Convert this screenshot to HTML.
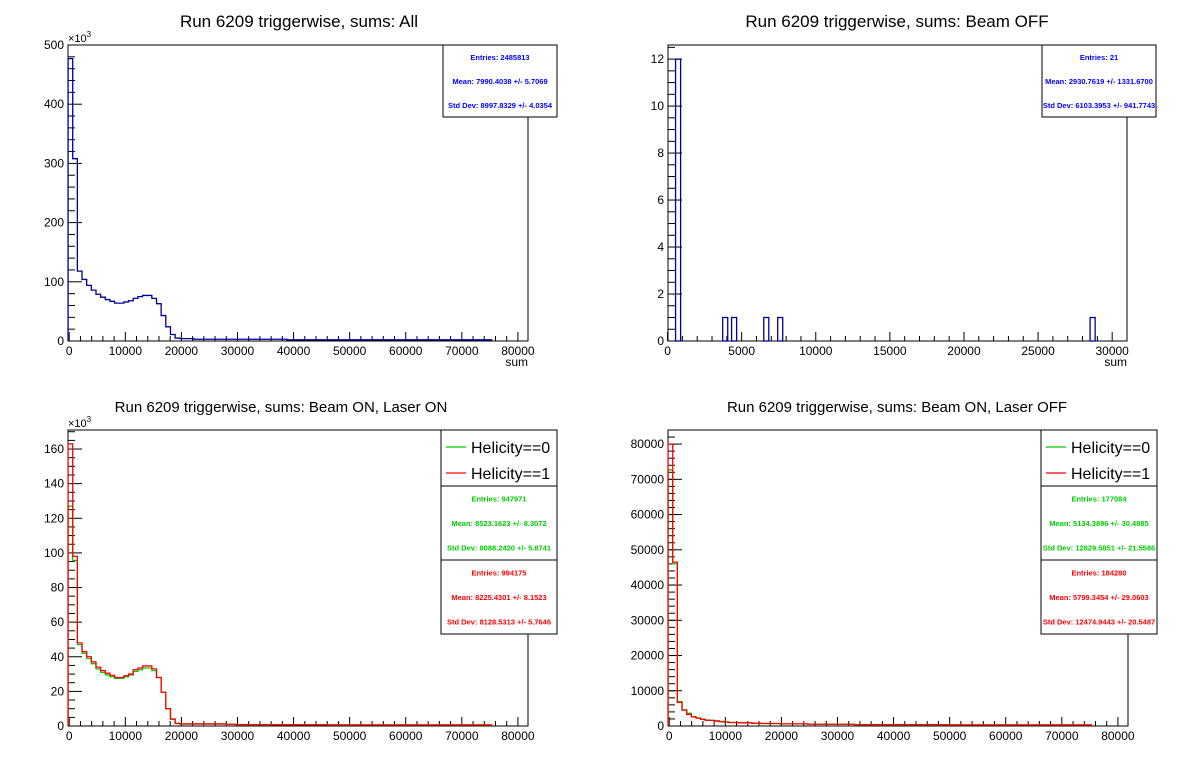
<!DOCTYPE html>
<html><head><meta charset="utf-8"><style>
body{margin:0;background:#fff}
svg{display:block;font-family:"Liberation Sans",sans-serif}
</style></head><body>
<svg id="c" width="1196" height="772" viewBox="0 0 1196 772" xmlns="http://www.w3.org/2000/svg">
<rect width="1196" height="772" fill="#fff"/>
<text x="299" y="27" font-size="17" text-anchor="middle">Run 6209 triggerwise, sums: All</text>
<text x="897" y="27" font-size="17" text-anchor="middle">Run 6209 triggerwise, sums: Beam OFF</text>
<text x="281" y="412" font-size="15" text-anchor="middle">Run 6209 triggerwise, sums: Beam ON, Laser ON</text>
<text x="897" y="412" font-size="15" text-anchor="middle">Run 6209 triggerwise, sums: Beam ON, Laser OFF</text>
<g id="plots"></g>
</svg>
<script>
const binStart=-210;
const binWidth=830;
// Top-left: All (thousands)
const allCounts=[477,308,118,104,94,86,79,74,70,67,64,64,66,68,72,75,77,77,72,63,43,24,11,5,4,4,4,3,3,3,3,3,3,3,3,3,3,3,3,3,3,3,3,3,3,3,3,2,2,2,2,2,2,2,2,2,2,2,2,2,2,2,2,2,2,2,2,2,2,2,2,2,2,2,2,2,2,2,2,2,2,2,2,2,2,2,2,2,2,2,2];
// Top-right: Beam OFF, nonzero bins
const offStarts=[540,3720,4320,6490,7430,28510];
const offCounts=[12,1,1,1,1,1];
const offWidth=340;
// Bottom-left: Laser ON (thousands)
const lonRed=[163,98,48,43,40,37,34,32,30.5,29.3,28,28,29,30,32.5,33.5,34.7,34.7,33,28,19.5,10,4,1.5,1.2,1.2,1.2,1.2,1.2,1.2,1.2,1.2,1.2,1.2,1.0,1.0,0.8,0.8,0.8,0.8,0.8,0.8,0.8,0.8,0.7,0.7,0.7,0.7,0.7,0.7,0.7,0.7,0.7,0.7,0.7,0.7,0.6,0.6,0.6,0.6,0.6,0.6,0.6,0.6,0.6,0.6,0.6,0.6,0.6,0.6,0.6,0.6,0.6,0.6,0.6,0.6,0.6,0.6,0.6,0.6,0.6,0.6,0.6,0.6,0.6,0.6,0.6,0.6,0.6,0.6,0.6];
const lonGreen=[127,95.6,47,42,39,36,33,31,29.5,28.5,27.5,27.5,28.5,29.5,31.5,32.5,33.5,33.5,32,28,19.5,10,4,1.5,1.2,1.2,1.2,1.2,1.2,1.2,1.2,1.2,1.2,1.2,1.0,1.0,0.8,0.8,0.8,0.8,0.8,0.8,0.8,0.8,0.7,0.7,0.7,0.7,0.7,0.7,0.7,0.7,0.7,0.7,0.7,0.7,0.6,0.6,0.6,0.6,0.6,0.6,0.6,0.6,0.6,0.6,0.6,0.6,0.6,0.6,0.6,0.6,0.6,0.6,0.6,0.6,0.6,0.6,0.6,0.6,0.6,0.6,0.6,0.6,0.6,0.6,0.6,0.6,0.6,0.6,0.6];
// Bottom-right: Laser OFF (thousands)
const loffRed=[80,46.5,6.7,4.5,3.3,2.6,2.2,1.9,1.6,1.6,1.4,1.2,1.1,1.0,1.0,0.9,0.9,0.9,0.8,0.8,0.7,0.7,0.7,0.7,0.6,0.6,0.6,0.6,0.6,0.6,0.5,0.5,0.5,0.5,0.5,0.5,0.5,0.5,0.5,0.5,0.4,0.4,0.4,0.4,0.4,0.4,0.4,0.4,0.4,0.4,0.4,0.4,0.4,0.4,0.4,0.4,0.4,0.4,0.4,0.4,0.3,0.3,0.3,0.3,0.3,0.3,0.3,0.3,0.3,0.3,0.3,0.3,0.3,0.3,0.3,0.3,0.3,0.3,0.3,0.3,0.3,0.3,0.3,0.3,0.3,0.3,0.3,0.3,0.3,0.3,0.3];
const loffGreen=[72.7,46,6.9,4.6,3.6,2.7,2.3,1.9,1.7,1.6,1.5,1.3,1.2,1.0,1.0,0.9,0.9,0.9,0.8,0.8,0.7,0.7,0.7,0.7,0.6,0.6,0.6,0.6,0.6,0.6,0.5,0.5,0.5,0.5,0.5,0.5,0.5,0.5,0.5,0.5,0.4,0.4,0.4,0.4,0.4,0.4,0.4,0.4,0.4,0.4,0.4,0.4,0.4,0.4,0.4,0.4,0.4,0.4,0.4,0.4,0.3,0.3,0.3,0.3,0.3,0.3,0.3,0.3,0.3,0.3,0.3,0.3,0.3,0.3,0.3,0.3,0.3,0.3,0.3,0.3,0.3,0.3,0.3,0.3,0.3,0.3,0.3,0.3,0.3,0.3,0.3];
const xTicksWide=[0,10000,20000,30000,40000,50000,60000,70000,80000];
const xTicksNarrow=[0,5000,10000,15000,20000,25000,30000];
const yTicksAll=[0,100,200,300,400,500];
const yTicksOff=[0,2,4,6,8,10,12];
const yTicksLon=[0,20,40,60,80,100,120,140,160];
const yTicksLoff=[0,10000,20000,30000,40000,50000,60000,70000,80000];

const NS="http://www.w3.org/2000/svg";
const G=document.getElementById('plots');
function mk(tag,attrs,parent,text){const e=document.createElementNS(NS,tag);for(const k in attrs)e.setAttribute(k,attrs[k]);if(text!==undefined)e.textContent=text;(parent||G).appendChild(e);return e;}

function makePlot(name,L,T,R,B,xmin,xmax,ymin,ymax,xTicks,xMinorStep,yTicks,yMinorStep,yLabelScale){
  const g=mk('g',{});
  
  
  const X=v=>L+(v-xmin)/(xmax-xmin)*(R-L);
  const Y=v=>B-(v-ymin)/(ymax-ymin)*(B-T);
  const fr=mk('rect',{x:L,y:T,width:R-L,height:B-T,fill:'none',stroke:'#000','stroke-width':1},g);
  
  
  const xa=mk('g',{},g);
  
  
  for(let v=xTicks[0];v<=xmax;v+=xMinorStep){const x=X(v);if(x<L-0.5||x>R+0.5)continue;const major=xTicks.some(t=>Math.abs(t-v)<1e-6);mk('line',{x1:x,x2:x,y1:B,y2:B-(major?9:5),stroke:'#000'},xa);}
  xTicks.forEach(t=>{const lb=mk('text',{x:X(t),y:B+14,'font-size':12,'text-anchor':'middle'},xa,String(t));
    
    });
  const ya=mk('g',{},g);
  
  
  for(let v=0;v<=ymax+1e-9;v+=yMinorStep){const y=Y(v);const major=yTicks.some(t=>Math.abs(t-v)<1e-6);mk('line',{x1:L,x2:L+(major?14:7),y1:y,y2:y,stroke:'#000'},ya);}
  yTicks.forEach(t=>{const lb=mk('text',{x:L-4,y:Y(t)+4,'font-size':12,'text-anchor':'end'},ya,String(t));
    
    });
  if(yLabelScale){const s=mk('text',{x:L,y:T-3,'font-size':11},ya);
    s.textContent='×10';mk('tspan',{dy:-5,'font-size':8},s,'3');}
  return {g,X,Y};
}
function hist(p,vals,color,name){
  let d='M'+p.X(binStart)+' '+p.Y(0);
  vals.forEach((v,i)=>{d+=' L'+p.X(binStart+i*binWidth)+' '+p.Y(v)+' L'+p.X(binStart+(i+1)*binWidth)+' '+p.Y(v);});
  d+=' L'+p.X(binStart+vals.length*binWidth)+' '+p.Y(0);
  const e=mk('path',{d,fill:'none',stroke:color,'stroke-width':1.3},p.g);
  
  
}
function statsBox(x,y,w,h,color,lines,name){
  const g=mk('g',{});
  
  
  mk('rect',{x,y,width:w,height:h,fill:'#fff',stroke:'#000'},g);
  lines.forEach((t,i)=>mk('text',{x:x+w/2,y:y+h*(i*2+1)/6+3,'font-size':7.5,'font-weight':'bold',fill:color,'text-anchor':'middle'},g,t));
}
function legend(x,y,name){
  const g=mk('g',{});
  
  
  mk('rect',{x,y,width:116,height:56,fill:'#fff',stroke:'#000'},g);
  [['#00cc00','Helicity==0'],['#ff0000','Helicity==1']].forEach((c,i)=>{const yy=y+17+i*26;
    mk('line',{x1:x+5,x2:x+25,y1:yy,y2:yy,stroke:c[0],'stroke-width':1.3},g);
    const t=mk('text',{x:x+30,y:yy+6,'font-size':16},g,c[1]);
    
    });
}

// Top-left
const p1=makePlot('plot-all',68,45,528,341,-220,81800,0,500,xTicksWide,2000,yTicksAll,20,true);
hist(p1,allCounts,'#000099','hist-all');
mk('text',{x:528,y:366,'font-size':12,'text-anchor':'end'},p1.g,'sum');
statsBox(443,45,114,72,'#0000ff',['Entries: 2485813','Mean: 7990.4038 +/- 5.7069','Std Dev: 8997.8329 +/- 4.0354'],'stats-all');

// Top-right
const p2=makePlot('plot-beam-off',668,45,1127,341,30,31000,0,12.6,xTicksNarrow,1000,yTicksOff,0.5,false);
offStarts.forEach((s,i)=>{const r=mk('rect',{x:p2.X(s),y:p2.Y(offCounts[i]),width:p2.X(s+offWidth)-p2.X(s),height:p2.Y(0)-p2.Y(offCounts[i]),fill:'none',stroke:'#000099','stroke-width':1.3},p2.g);
  
  });
mk('text',{x:1127,y:366,'font-size':12,'text-anchor':'end'},p2.g,'sum');
statsBox(1042,45,114,72,'#0000ff',['Entries: 21','Mean: 2930.7619 +/- 1331.6700','Std Dev: 6103.3953 +/- 941.7743'],'stats-beam-off');

// Bottom-left
const p3=makePlot('plot-laser-on',68,430,528,726,-220,81800,0,171,xTicksWide,2000,yTicksLon,5,true);
hist(p3,lonGreen,'#00cc00','hist-laser-on-h0');
hist(p3,lonRed,'#ff0000','hist-laser-on-h1');
legend(441,430,'legend-laser-on');
statsBox(441,486,116,74,'#00cc00',['Entries: 947971','Mean: 8523.1623 +/- 8.3072','Std Dev: 8088.2420 +/- 5.8741'],'stats-laser-on-h0');
statsBox(441,560,116,74,'#ff0000',['Entries: 994175','Mean: 8225.4301 +/- 8.1523','Std Dev: 8128.5313 +/- 5.7646'],'stats-laser-on-h1');

// Bottom-right
const p4=makePlot('plot-laser-off',668,430,1128,726,-220,81800,0,84,xTicksWide,2000,[],2,false);
yTicksLoff.forEach(t=>{const lb=mk('text',{x:664,y:p4.Y(t/1000)+4,'font-size':12,'text-anchor':'end'},p4.g,String(t));
  
  
  mk('line',{x1:668,x2:682,y1:p4.Y(t/1000),y2:p4.Y(t/1000),stroke:'#000'},p4.g);});
hist(p4,loffGreen,'#00cc00','hist-laser-off-h0');
hist(p4,loffRed,'#ff0000','hist-laser-off-h1');
legend(1041,430,'legend-laser-off');
statsBox(1041,486,116,74,'#00cc00',['Entries: 177084','Mean: 5134.3896 +/- 30.4885','Std Dev: 12829.5851 +/- 21.5586'],'stats-laser-off-h0');
statsBox(1041,560,116,74,'#ff0000',['Entries: 184280','Mean: 5799.3454 +/- 29.0603','Std Dev: 12474.9443 +/- 20.5487'],'stats-laser-off-h1');
</script>
</body></html>
